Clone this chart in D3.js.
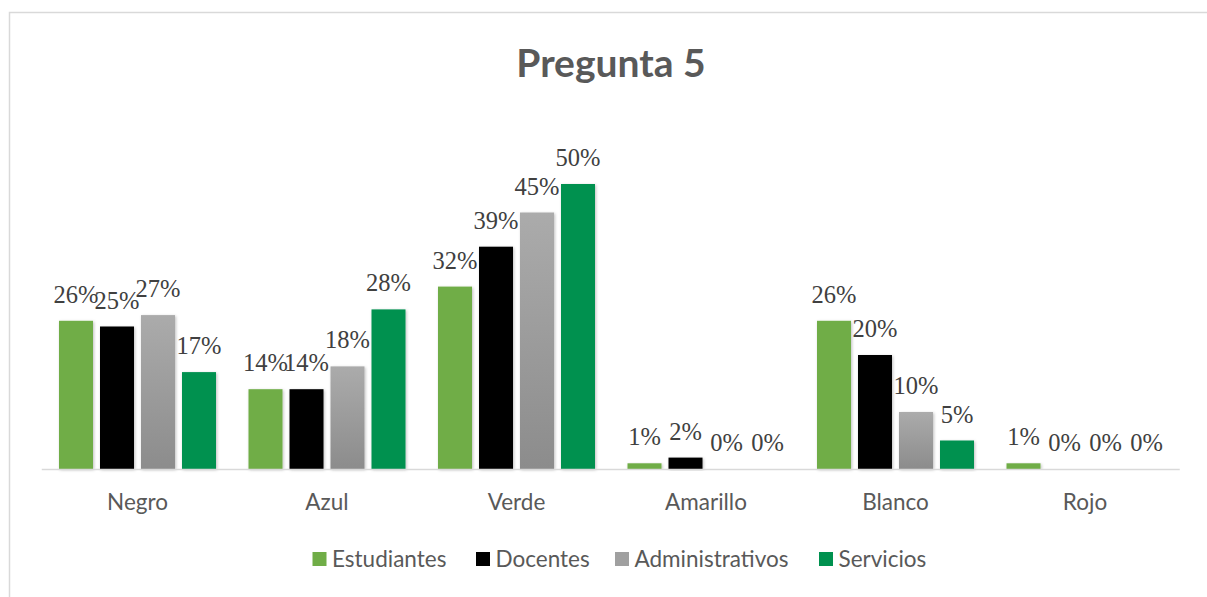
<!DOCTYPE html>
<html lang="es">
<head>
  <meta charset="UTF-8">
  <title>Pregunta 5</title>
  <script src="https://d3js.org/d3.v7.min.js"></script>
  <style>
    body { margin: 0; background: #fff; }
    svg { display: block; }
    .title { font-family: Lato, "Open Sans", sans-serif; font-weight: bold; font-size: 39px; fill: #595959; }
    .cat { font-family: Lato, "Open Sans", sans-serif; font-size: 22.5px; fill: #595959; }
    .val { font-family: "Liberation Serif", serif; font-size: 24.5px; fill: #404040; }
    .leg { font-family: Lato, "Open Sans", sans-serif; font-size: 22.5px; fill: #595959; }
  </style>
</head>
<body>
<div id="chart"></div>
<script>
// data
const categories = ["Negro", "Azul", "Verde", "Amarillo", "Blanco", "Rojo"];
const seriesNames = ["Estudiantes", "Docentes", "Administrativos", "Servicios"];
const estudiantes = [26, 14, 32, 1, 26, 1];
const docentes = [25, 14, 39, 2, 20, 0];
const administrativos = [27, 18, 45, 0, 10, 0];
const servicios = [17, 28, 50, 0, 5, 0];

const seriesValues = [estudiantes, docentes, administrativos, servicios];
const colors = ["#70ad47", "#000000", "url(#grayGrad)", "#00914f"];
const legendColors = ["#70ad47", "#000000", "#a0a0a0", "#00914f"];

const W = 1207, H = 597;
const svg = d3.select("#chart").append("svg").attr("width", W).attr("height", H);

const defs = svg.append("defs");
const grad = defs.append("linearGradient").attr("id", "grayGrad")
  .attr("x1", 0).attr("y1", 0).attr("x2", 0).attr("y2", 1);
grad.append("stop").attr("offset", "0%").attr("stop-color", "#ababab");
grad.append("stop").attr("offset", "100%").attr("stop-color", "#8c8c8c");
const shadow = defs.append("filter").attr("id", "shadow")
  .attr("x", "-20%").attr("y", "-10%").attr("width", "140%").attr("height", "120%");
shadow.append("feDropShadow").attr("dx", 1).attr("dy", 1).attr("stdDeviation", 1.5)
  .attr("flood-color", "#000").attr("flood-opacity", 0.25);

// chart border (only left/top visible in frame)
svg.append("rect").attr("x", 9.5).attr("y", 12.5).attr("width", 1220).attr("height", 600)
  .attr("fill", "none").attr("stroke", "#d9d9d9").attr("stroke-width", 1.5);

const x0 = d3.scaleBand().domain(categories).range([42.75, 1179.75]).padding(0);
const x1 = d3.scaleBand().domain(seriesNames)
  .range([16.25, x0.bandwidth() - 16.25]).paddingInner(7 / 41).paddingOuter(0);
const y = d3.scaleLinear().domain([0, 50]).range([469, 184]);

svg.append("text").attr("class", "title")
  .attr("x", 611).attr("y", 77).attr("text-anchor", "middle").text("Pregunta 5");

const groups = svg.selectAll(".grp").data(categories).enter().append("g")
  .attr("transform", d => `translate(${x0(d)},0)`);

groups.each(function (cat, ci) {
  const g = d3.select(this);
  seriesNames.forEach((s, si) => {
    const v = seriesValues[si][ci];
    if (v > 0) {
      g.append("rect")
        .attr("x", x1(s)).attr("y", y(v))
        .attr("width", x1.bandwidth()).attr("height", y(0) - y(v))
        .attr("fill", colors[si]).attr("filter", "url(#shadow)");
    }
    g.append("text").attr("class", "val")
      .attr("x", x1(s) + x1.bandwidth() / 2).attr("y", y(v) - 18)
      .attr("text-anchor", "middle").text(v + "%");
  });
});

// axis line
svg.append("line").attr("x1", x0.range()[0] - 1).attr("x2", x0.range()[1])
  .attr("y1", y(0) + 0.5).attr("y2", y(0) + 0.5)
  .attr("stroke", "#d9d9d9").attr("stroke-width", 1.5);

svg.selectAll(".cat").data(categories).enter().append("text")
  .attr("class", "cat")
  .attr("x", d => x0(d) + x0.bandwidth() / 2).attr("y", 510)
  .attr("text-anchor", "middle").text(d => d);

// legend
const legX = [312.5, 476, 615, 819];
const leg = svg.selectAll(".legItem").data(seriesNames).enter().append("g")
  .attr("transform", (d, i) => `translate(${legX[i]},559)`);
leg.append("rect").attr("x", 0).attr("y", -7).attr("width", 14).attr("height", 14)
  .attr("fill", (d, i) => legendColors[i]);
leg.append("text").attr("class", "leg").attr("x", 19.5).attr("y", 7.5).text(d => d);
</script>
</body>
</html>
